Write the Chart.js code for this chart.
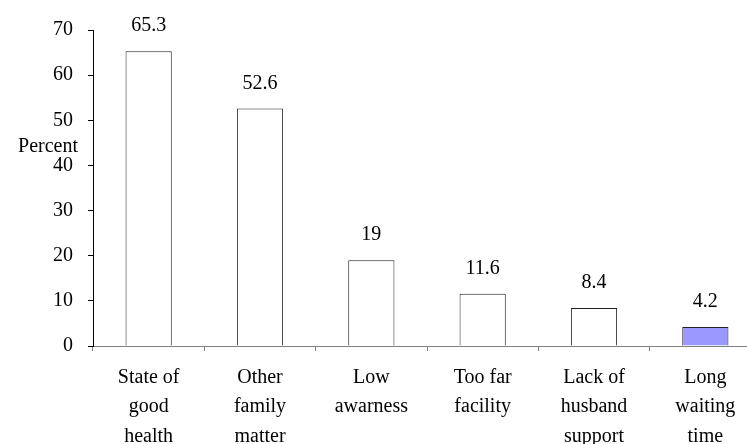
<!DOCTYPE html>
<html>
<head>
<meta charset="utf-8">
<script src="https://cdn.jsdelivr.net/npm/chart.js@4"></script>
<style>
  html, body { margin: 0; padding: 0; background: #fff; overflow: hidden; }
  #wrap { width: 770px; height: 444px; }
</style>
</head>
<body>
<div id="wrap"><canvas id="chart" width="770" height="444"></canvas></div>
<script>
// Reasons for not using the service, percent of respondents
var categories = [
  ['State of', 'good', 'health'],
  ['Other', 'family', 'matter'],
  ['Low', 'awarness'],
  ['Too far', 'facility'],
  ['Lack of', 'husband', 'support'],
  ['Long', 'waiting', 'time']
];
var percents = [65.3, 52.6, 19, 11.6, 8.4, 4.2];
var valueLabels = ['65.3', '52.6', '19', '11.6', '8.4', '4.2'];
var yTicks = [0, 10, 20, 30, 40, 50, 60, 70];

var serif = '"Liberation Serif", "Times New Roman", serif';

// Value labels above bars and the "Percent" axis title
var labelPlugin = {
  id: 'labels',
  afterDatasetsDraw: function (chart) {
    var ctx = chart.ctx;
    var meta = chart.getDatasetMeta(0);
    ctx.save();
    ctx.font = '20px ' + serif;
    ctx.fillStyle = '#000';
    ctx.textAlign = 'center';
    ctx.textBaseline = 'middle';
    meta.data.forEach(function (bar, i) {
      ctx.fillText(valueLabels[i], bar.x, bar.y - 25);
    });
    ctx.textAlign = 'right';
    ctx.fillText('Percent', 78, 147);
    ctx.restore();
  }
};

new Chart(document.getElementById('chart'), {
  type: 'bar',
  data: {
    labels: categories,
    datasets: [{
      data: percents,
      backgroundColor: ['#ffffff', '#ffffff', '#ffffff', '#ffffff', '#ffffff', '#9999ff'],
      borderColor: '#222',
      borderWidth: 1,
      categoryPercentage: 1,
      barPercentage: 0.415
    }]
  },
  options: {
    responsive: false,
    animation: false,
    layout: { padding: { top: 30, right: 9, left: 0, bottom: 0 } },
    plugins: { legend: { display: false }, tooltip: { enabled: false } },
    scales: {
      x: {
        grid: { drawOnChartArea: false, drawTicks: true, tickLength: 5, color: '#808080', offset: true },
        border: { color: '#808080', width: 1 },
        ticks: {
          color: '#000',
          font: { family: serif, size: 20, lineHeight: 1.47 },
          padding: 12,
          maxRotation: 0,
          autoSkip: false
        },
        afterFit: function (scale) { scale.height = 98; }
      },
      y: {
        min: 0,
        max: 70,
        afterBuildTicks: function (scale) {
          scale.ticks = yTicks.map(function (v) { return { value: v }; });
        },
        grid: { drawOnChartArea: false, drawTicks: true, tickLength: 5, color: '#000' },
        border: { color: '#000', width: 1 },
        ticks: {
          color: '#000',
          font: { family: serif, size: 20 },
          padding: 15
        },
        afterFit: function (scale) { scale.width = 93; }
      }
    }
  },
  plugins: [labelPlugin]
});
</script>
</body>
</html>
